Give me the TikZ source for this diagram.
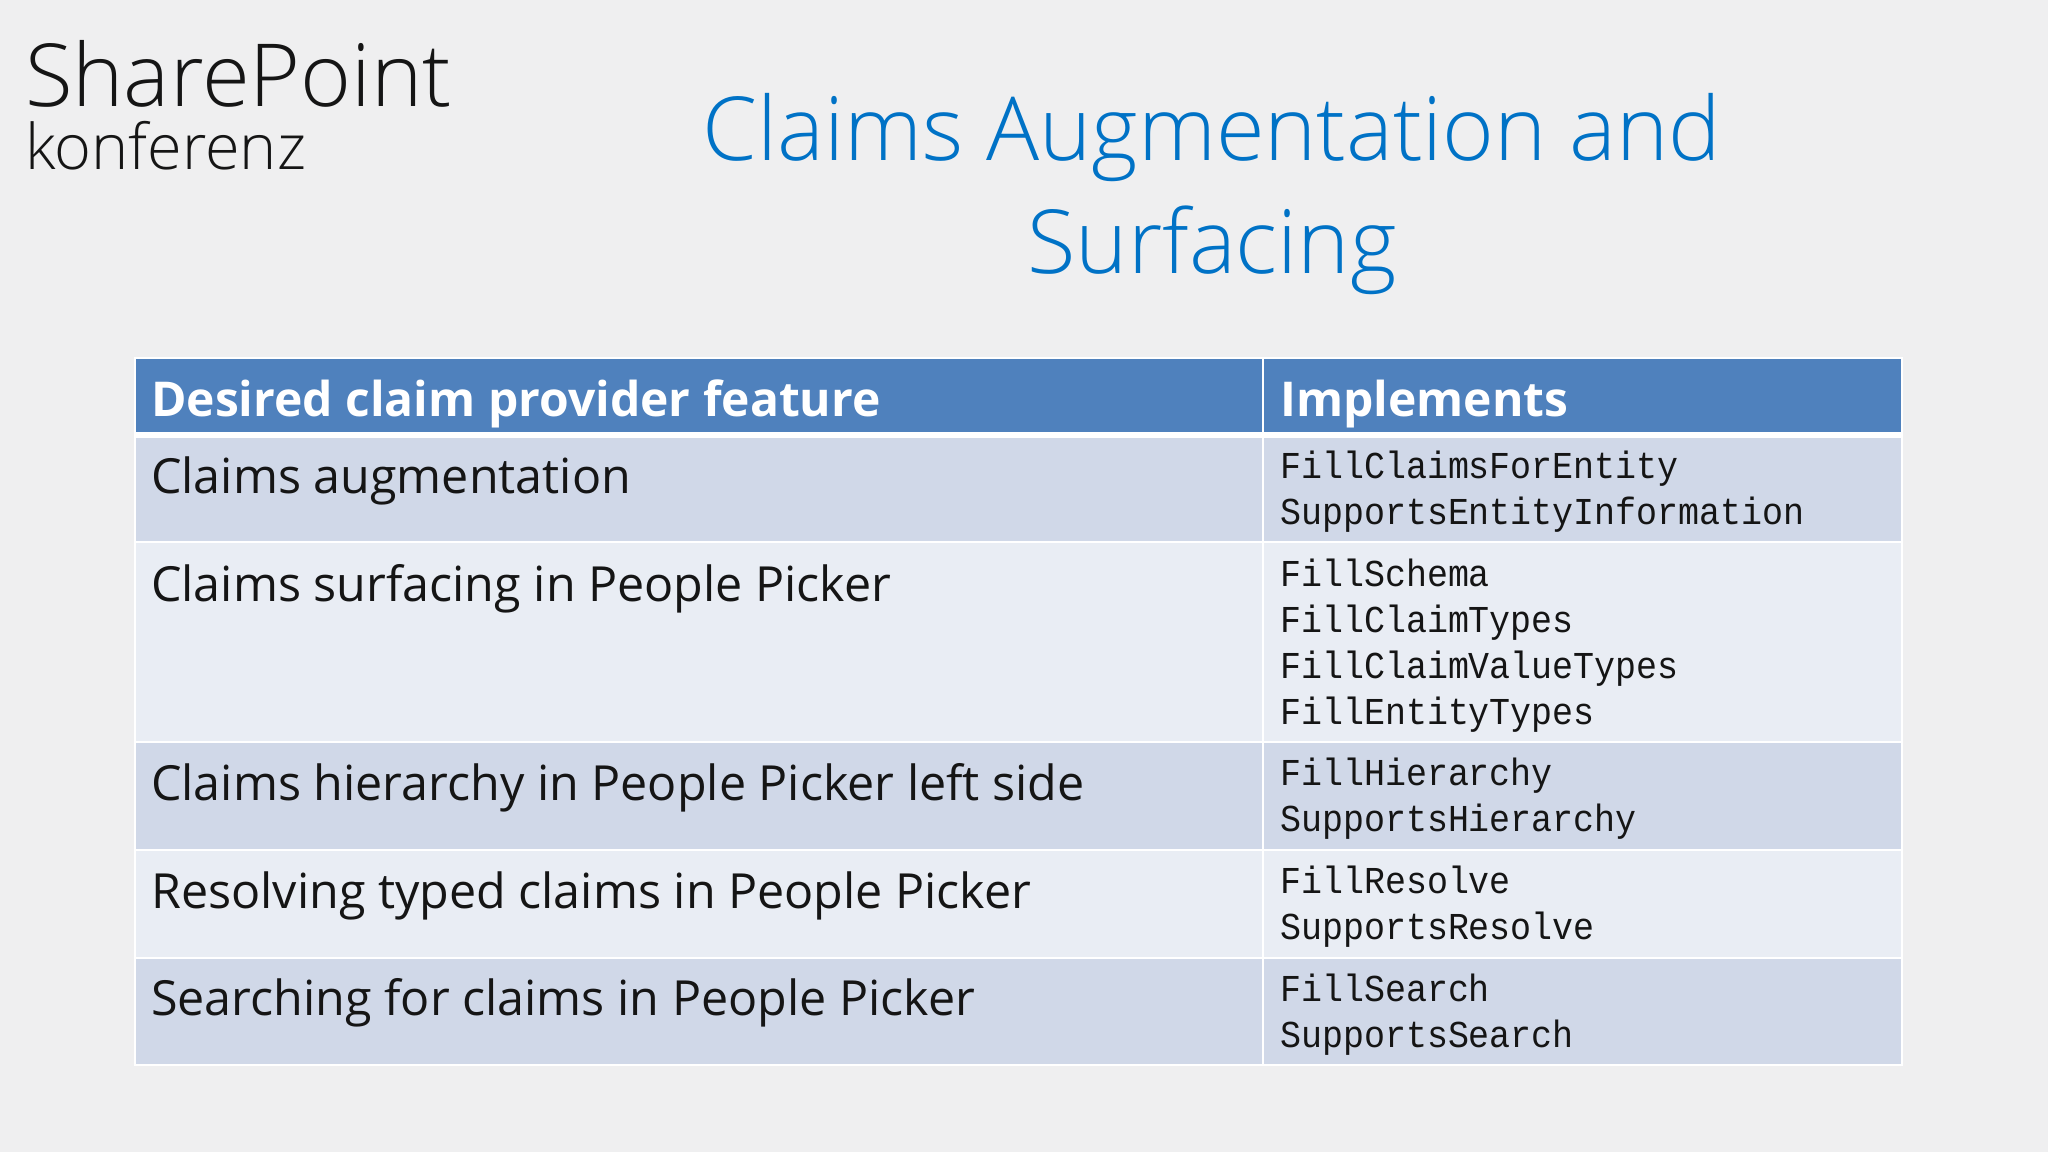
\documentclass[tikz,border=0pt]{standalone}
\usepackage{fontspec}
\setmainfont{Open Sans}
\newfontfamily\lightf{Open Sans Light}
\newfontfamily\monof[FakeStretch=0.92]{Liberation Mono}
\definecolor{pagebg}{HTML}{EFEFF0}
\definecolor{headblue}{HTML}{4F81BD}
\definecolor{rowdark}{HTML}{D0D8E8}
\definecolor{rowlight}{HTML}{E9EDF4}
\definecolor{titleblue}{HTML}{0072C6}
\definecolor{inkc}{HTML}{151515}
\tikzset{
  cell/.style={anchor=north west,inner sep=0pt,outer sep=0pt,draw=white,line width=2pt},
  headtxt/.style={anchor=base west,inner sep=0pt,text=white,font=\fontsize{48}{52}\selectfont\bfseries},
  rowtxt/.style={anchor=base west,inner sep=0pt,text=inkc,font=\fontsize{48.4}{52}\selectfont},
  codetxt/.style={anchor=base west,inner sep=0pt,text=inkc,font=\fontsize{38}{46}\monof},
}
\begin{document}
\begin{tikzpicture}[x=1pt,y=-1pt]
\useasboundingbox (0,0) rectangle (2048,1152);
\fill[pagebg] (0,0) rectangle (2048,1152);
% logo and title
\node[anchor=base west,inner sep=0pt,text=inkc,font=\fontsize{87}{90}\lightf] (logoa) at (25,106) {SharePoint};
\node[anchor=base west,inner sep=0pt,text=inkc,font=\fontsize{63}{66}\lightf] (logob) at (25,169) {konferenz};
\node[anchor=base,inner sep=0pt,text=titleblue,font=\fontsize{88.4}{90}\lightf] (titlea) at (1212,160) {Claims Augmentation and};
\node[anchor=base,inner sep=0pt,text=titleblue,font=\fontsize{88.4}{90}\lightf] (titleb) at (1212,273) {Surfacing};
% table cells
\foreach \nm/\ya/\hh/\col in {h/358/77/headblue,a/435/107/rowdark,b/542/200/rowlight,c/742/108/rowdark,d/850/108/rowlight,e/958/107/rowdark}{
  \node[cell,fill=\col,minimum width=1128pt,minimum height=\hh pt] (\nm l) at (135,\ya) {};
  \node[cell,fill=\col,minimum width=639pt,minimum height=\hh pt] (\nm r) at (1263,\ya) {};
}
\draw[white,line width=6pt] (hl.south west) -- (hr.south east);
% header
\node[headtxt] (h1) at (151,416) {Desired claim provider feature};
\node[headtxt] (h2) at (1280,416) {Implements};
% left column
\node[rowtxt] (ra) at (151,493) {Claims augmentation};
\node[rowtxt] (rb) at (151,601) {Claims surfacing in People Picker};
\node[rowtxt] (rc) at (151,800) {Claims hierarchy in People Picker left side};
\node[rowtxt] (rd) at (151,908) {Resolving typed claims in People Picker};
\node[rowtxt] (re) at (151,1015) {Searching for claims in People Picker};
% right column
\node[codetxt] (c1) at (1280,478) {FillClaimsForEntity};
\node[codetxt] (c2) at (1280,524) {SupportsEntityInformation};
\node[codetxt] (c3) at (1280,586) {FillSchema};
\node[codetxt] (c4) at (1280,632) {FillClaimTypes};
\node[codetxt] (c5) at (1280,678) {FillClaimValueTypes};
\node[codetxt] (c6) at (1280,724) {FillEntityTypes};
\node[codetxt] (c7) at (1280,785) {FillHierarchy};
\node[codetxt] (c8) at (1280,831) {SupportsHierarchy};
\node[codetxt] (c9) at (1280,893) {FillResolve};
\node[codetxt] (c10) at (1280,939) {SupportsResolve};
\node[codetxt] (c11) at (1280,1001) {FillSearch};
\node[codetxt] (c12) at (1280,1047) {SupportsSearch};
\end{tikzpicture}
\end{document}
